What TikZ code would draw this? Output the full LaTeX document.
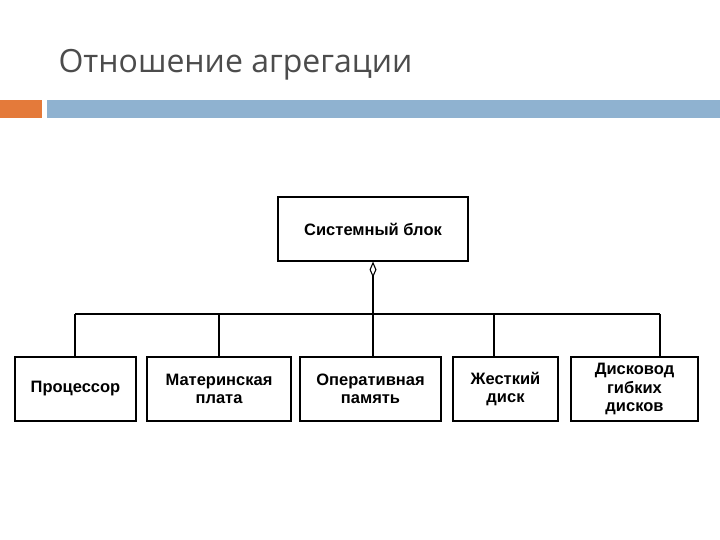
\documentclass[tikz,border=0pt]{standalone}
\usepackage{fontspec}
\setmainfont{Liberation Sans}
\newfontfamily\titlefont{Open Sans}
\usetikzlibrary{arrows.meta}
\definecolor{barorange}{RGB}{228,122,58}
\definecolor{barblue}{RGB}{143,178,208}
\begin{document}
\begin{tikzpicture}[x=1pt,y=-1pt,
  box/.style={draw,line width=1.2pt,minimum height=64pt,align=center,font=\bfseries\fontsize{16.5}{18.5}\selectfont,inner sep=1pt},
  ln/.style={line width=1.1pt}]
\useasboundingbox (0,0) rectangle (720,540);
\node[anchor=base west,font=\titlefont\fontsize{32}{36}\selectfont,text=black!70] (title) at (55,73) {Отношение агрегации};
\fill[barorange] (0,100) rectangle (42,118);
\fill[barblue] (47,100) rectangle (720,118);
\node[box,minimum width=190pt] (sys) at (373,229) {Системный блок};
\node[box,minimum width=121pt] (b1) at (75.5,389) {Процессор};
\node[box,minimum width=144pt] (b2) at (219,389) {Материнская\\плата};
\node[box,minimum width=141pt] (b3) at (370.5,389) {Оперативная\\память};
\node[box,minimum width=105pt] (b4) at (505.5,389) {Жесткий\\диск};
\node[box,minimum width=127pt] (b5) at (634.5,389) {Дисковод\\гибких\\дисков};
\coordinate (j) at (373,314);
\draw[ln,{Diamond[open,width=7pt,length=16pt]}-] (sys.south) -- (j);
\draw[ln] (75,314) -- (660,314);
\draw[ln] (75,314) -- (75,357);
\draw[ln] (219,314) -- (219,357);
\draw[ln] (373,314) -- (373,357);
\draw[ln] (494,314) -- (494,357);
\draw[ln] (660,314) -- (660,357);
\end{tikzpicture}
\end{document}
